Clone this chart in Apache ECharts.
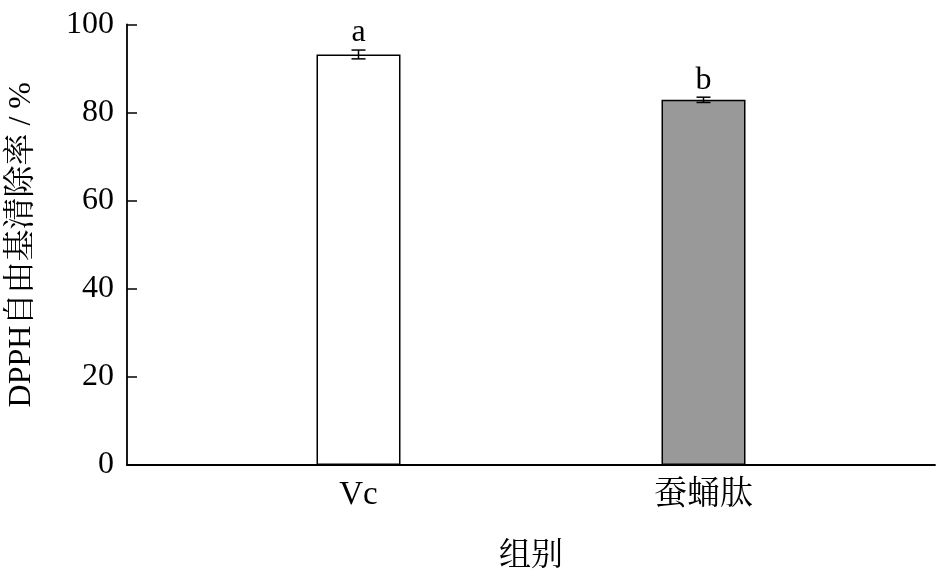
<!DOCTYPE html>
<html>
<head>
<meta charset="utf-8">
<script src="https://cdn.jsdelivr.net/npm/echarts@6/dist/echarts.min.js"></script>
<style>html,body{margin:0;padding:0;background:#fff;}#c{width:947px;height:580px;}</style>
</head>
<body>
<div id="c"></div>
<script>
const categories = ['Vc', '蚕蛹肽'];
const values = [93.2, 82.9];
const errors = [1.0, 0.6];
const sigLetters = ['a', 'b'];
const yTicks = [0, 20, 40, 60, 80, 100];
const barColors = ['#ffffff', '#999999'];

const positions = categories.map((c, i) => i + 1);
const FONT = '"Liberation Serif", "Noto Serif CJK SC", "Noto Sans CJK SC", serif';

const chart = echarts.init(document.getElementById('c'));
chart.setOption({
  animation: false,
  backgroundColor: '#fff',
  grid: { left: 127, right: 12, top: 24.5, bottom: 115, containLabel: false, outerBoundsMode: 'none' },
  xAxis: {
    type: 'value',
    min: 0.329, max: 2.671,
    name: '组别', nameLocation: 'middle', nameGap: 76,
    nameTextStyle: { fontFamily: FONT, fontSize: 32, color: '#000' },
    axisLine: { show: true, lineStyle: { color: '#000', width: 1.8 } },
    axisTick: { show: true, inside: true, length: 9, lineStyle: { color: '#000', width: 1.5 }, customValues: positions },
    axisLabel: {
      customValues: positions, margin: 14,
      fontFamily: FONT, fontSize: 33, color: '#000',
      formatter: v => categories[Math.round(v) - 1] || ''
    },
    splitLine: { show: false }
  },
  yAxis: {
    type: 'value', min: 0, max: 100, interval: 20,
    name: 'DPPH自由基清除率 / %', nameLocation: 'middle', nameGap: 89,
    nameTextStyle: { fontFamily: FONT, fontSize: 32, color: '#000' },
    axisLine: { show: true, lineStyle: { color: '#000', width: 1.8 } },
    axisTick: { show: true, inside: true, length: 10, lineStyle: { color: '#000', width: 1.5 } },
    axisLabel: { margin: 13, fontFamily: FONT, fontSize: 32, color: '#000' },
    splitLine: { show: false }
  },
  series: [
    {
      type: 'bar',
      barWidth: 84,
      data: positions.map((p, i) => ({
        value: [p, values[i]],
        itemStyle: { color: barColors[i], borderColor: '#000', borderWidth: 1.5 }
      }))
    },
    {
      type: 'custom',
      z: 10,
      data: positions.map((p, i) => [p, values[i], errors[i], i]),
      renderItem: function (params, api) {
        const x = api.value(0), v = api.value(1), e = api.value(2), idx = api.value(3);
        const top = api.coord([x, v + e]);
        const bot = api.coord([x, v - e]);
        const hw = 7;
        const st = { stroke: '#000', lineWidth: 1.5 };
        return {
          type: 'group',
          children: [
            { type: 'line', shape: { x1: top[0], y1: top[1], x2: bot[0], y2: bot[1] }, style: st },
            { type: 'line', shape: { x1: top[0] - hw, y1: top[1], x2: top[0] + hw, y2: top[1] }, style: st },
            { type: 'line', shape: { x1: bot[0] - hw, y1: bot[1], x2: bot[0] + hw, y2: bot[1] }, style: st },
            { type: 'text', style: { text: sigLetters[idx], x: top[0], y: top[1] - 1, align: 'center', verticalAlign: 'bottom', font: '32px ' + FONT, fill: '#000' } }
          ]
        };
      }
    }
  ]
});
</script>
</body>
</html>
